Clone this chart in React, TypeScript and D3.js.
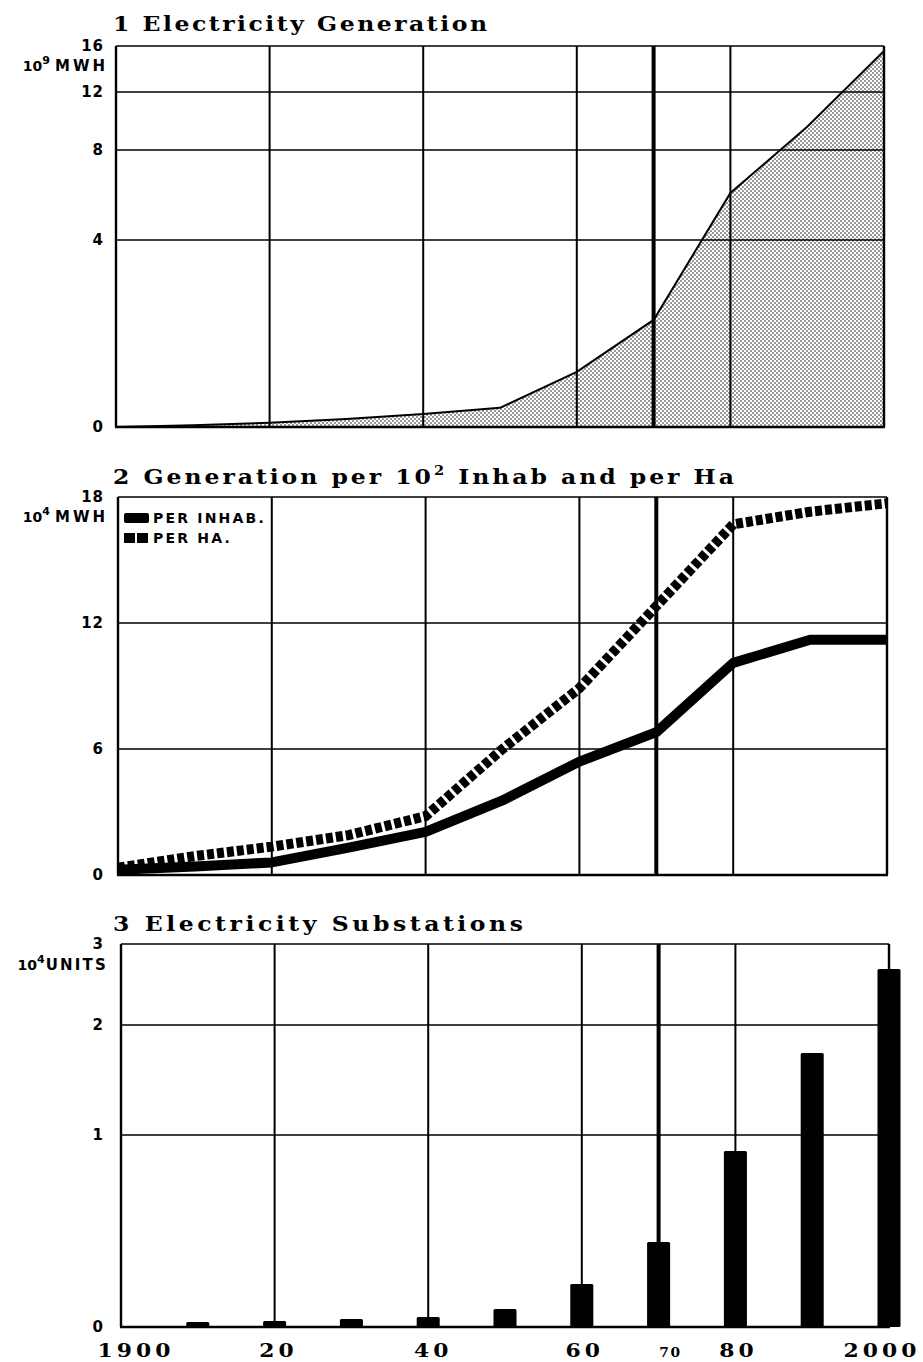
import React from "react";
import * as d3 from "d3";

// ---------- data ----------
const years = [1900, 1910, 1920, 1930, 1940, 1950, 1960, 1970, 1980, 1990, 2000];
// 10^9 MWH
const generation = [0, 0.04, 0.09, 0.17, 0.28, 0.41, 1.18, 2.29, 6.09, 9.6, 15.57];
// 10^4 MWH
const perInhab = [0.25, 0.4, 0.6, 1.3, 2.05, 3.55, 5.4, 6.8, 10.1, 11.2, 11.2];
const perHa = [0.35, 0.9, 1.35, 1.9, 2.8, 6.0, 8.9, 12.8, 16.7, 17.3, 17.7];
// 10^4 units
const barYears = [1910, 1920, 1930, 1940, 1950, 1960, 1970, 1980, 1990, 2000];
const substations = [0.026, 0.031, 0.042, 0.052, 0.094, 0.224, 0.443, 0.917, 1.745, 2.69];

const gridYears = [1900, 1920, 1940, 1960, 1970, 1980, 2000];
const xLabels = ["1900", "20", "40", "60", "70", "80", "2000"];
const ticks1 = [0, 4, 8, 12, 16];
const ticks2 = [0, 6, 12, 18];
const ticks3 = [0, 1, 2, 3];

const titles = ["1 Electricity Generation", "2 Generation per 10", "3 Electricity Substations"];
const legendLabels = ["PER INHAB.", "PER HA."];

// ---------- scales ----------
const x1 = d3.scaleLinear().domain([1900, 2000]).range([116, 884]);
const y1 = d3.scaleLinear().domain(ticks1).range([427, 240, 150, 92, 46]);
const x2 = d3.scaleLinear().domain([1900, 2000]).range([118, 887]);
const y2 = d3.scaleLinear().domain([0, 18]).range([875, 497]);
const x3 = d3.scaleLinear().domain([1900, 2000]).range([121, 889]);
const y3 = d3.scaleLinear().domain(ticks3).range([1327, 1135, 1025, 944]);

const SERIF = "'DejaVu Serif', serif";
const SANS = "'DejaVu Sans', sans-serif";
const SX = 1.12;

function Grid({ x, y, ticks }: { x: any; y: any; ticks: number[] }) {
  const [y0, yTop] = [y(ticks[0]), y(ticks[ticks.length - 1])];
  return (
    <g>
      {ticks.slice(1).map((t) => (
        <line key={"h" + t} x1={x(1900)} x2={x(2000)} y1={y(t)} y2={y(t)} stroke="#000" strokeWidth={1.7} />
      ))}
      {gridYears.map((yr) => (
        <line
          key={"v" + yr}
          x1={x(yr)}
          x2={x(yr)}
          y1={yTop}
          y2={y0}
          stroke="#000"
          strokeWidth={yr === 1970 ? 4 : yr === 1900 || yr === 2000 ? 2.4 : 2}
        />
      ))}
      <line x1={x(1900) - 1} x2={x(2000) + 1} y1={y0} y2={y0} stroke="#000" strokeWidth={2.6} />
    </g>
  );
}

function YLabels({ y, ticks }: { y: any; ticks: number[] }) {
  return (
    <g fontFamily={SANS} fontWeight="bold" fontSize={15} textAnchor="end">
      {ticks.map((t) => (
        <text key={t} x={104} y={y(t)} dy="0.36em" letterSpacing={1}>
          {t}
        </text>
      ))}
    </g>
  );
}

function Unit({ yPos, exp, unit }: { yPos: number; exp: string; unit: string }) {
  return (
    <text x={108} y={yPos} fontFamily={SANS} fontWeight="bold" textAnchor="end">
      <tspan fontSize={14}>10</tspan>
      <tspan fontSize={11} dy={-7}>{exp}</tspan>
      <tspan fontSize={15} dy={7} dx={unit === "UNITS" ? 1 : 5} letterSpacing={unit === "UNITS" ? 2.2 : 3}>
        {unit}
      </tspan>
    </text>
  );
}

function Title({ x, y, width, children }: { x: number; y: number; width: number; children: any }) {
  return (
    <text
      transform={`translate(${x},${y}) scale(${SX},1)`}
      x={0}
      y={0}
      fontFamily={SERIF}
      fontWeight="bold"
      fontSize={21}
      textLength={width / SX}
      lengthAdjust="spacing"
    >
      {children}
    </text>
  );
}

export default function App() {
  const genPts = years.map((yr, i) => [x1(yr), y1(generation[i])] as [number, number]);
  const area = d3
    .area<[number, number]>()
    .x((d) => d[0])
    .y0(y1(0))
    .y1((d) => d[1]);
  const line = d3.line<[number, number]>();

  const inhabPts = years.map((yr, i) => [x2(yr), y2(perInhab[i])] as [number, number]);
  const haPts = years.map((yr, i) => [x2(yr), y2(perHa[i])] as [number, number]);
  const poly = d3.line<[number, number]>().curve(d3.curveLinear);

  const barW = x3(1901.5) - x3(1898.5);

  const labelDx = [15, 4, 5, 3, 12, 3, -7];

  return (
    <svg
      width={923}
      height={1362}
      style={{ position: "absolute", left: 0, top: 0, background: "#fff" }}
      xmlns="http://www.w3.org/2000/svg"
    >
      <defs>
        <pattern id="stipple" width={4} height={4} patternUnits="userSpaceOnUse">
          <rect width={4} height={4} fill="#fff" />
          <circle cx={1} cy={1} r={0.75} fill="#000" />
          <circle cx={3} cy={3} r={0.75} fill="#000" />
        </pattern>
      </defs>
      <rect width={923} height={1362} fill="#fff" />

      {/* ---------- Panel 1 ---------- */}
      <Title x={113} y={31} width={374}>
        {titles[0]}
      </Title>
      <path d={area(genPts) || ""} fill="url(#stipple)" />
      <Grid x={x1} y={y1} ticks={ticks1} />
      <path d={line(genPts) || ""} fill="none" stroke="#000" strokeWidth={2} />
      <YLabels y={y1} ticks={ticks1} />
      <Unit yPos={71} exp="9" unit="MWH" />

      {/* ---------- Panel 2 ---------- */}
      <Title x={113} y={484} width={621}>
        <tspan>{titles[1]}</tspan>
        <tspan fontSize={13} dy={-9}>2</tspan>
        <tspan dy={9}> Inhab and per Ha</tspan>
      </Title>
      <Grid x={x2} y={y2} ticks={ticks2} />
      <path
        d={poly(haPts) || ""}
        fill="none"
        stroke="#000"
        strokeWidth={10}
        strokeDasharray="7 3"
      />
      <path
        d={poly(inhabPts) || ""}
        fill="none"
        stroke="#000"
        strokeWidth={10}
        strokeLinejoin="round"
      />
      <YLabels y={y2} ticks={ticks2} />
      <Unit yPos={522} exp="4" unit="MWH" />
      {/* legend */}
      <rect x={124} y={513} width={25} height={10} rx={2} fill="#000" />
      <rect x={124} y={533} width={11} height={10} fill="#000" />
      <rect x={137} y={533} width={11} height={10} fill="#000" />
      <g fontFamily={SANS} fontWeight="bold" fontSize={14} letterSpacing={2.2}>
        <text x={153} y={523}>{legendLabels[0]}</text>
        <text x={153} y={543}>{legendLabels[1]}</text>
      </g>

      {/* ---------- Panel 3 ---------- */}
      <Title x={113} y={931} width={410}>
        {titles[2]}
      </Title>
      <Grid x={x3} y={y3} ticks={ticks3} />
      {barYears.map((yr, i) => (
        <rect
          key={yr}
          x={x3(yr) - barW / 2}
          y={y3(substations[i])}
          width={barW}
          height={y3(0) - y3(substations[i])}
          rx={1.5}
          fill="#000"
        />
      ))}
      <YLabels y={y3} ticks={ticks3} />
      <Unit yPos={970} exp="4" unit="UNITS" />

      {/* x labels */}
      <g fontFamily={SERIF} fontWeight="bold" textAnchor="middle">
        {gridYears.map((yr, i) => (
          <text
            key={yr}
            transform={`translate(${x3(yr) + labelDx[i]},1357) scale(1.15,1)`}
            x={0}
            y={0}
            fontSize={yr === 1970 ? 12 : 19}
            letterSpacing={yr === 1970 ? 1.5 : 3.5}
          >
            {xLabels[i]}
          </text>
        ))}
      </g>
    </svg>
  );
}
